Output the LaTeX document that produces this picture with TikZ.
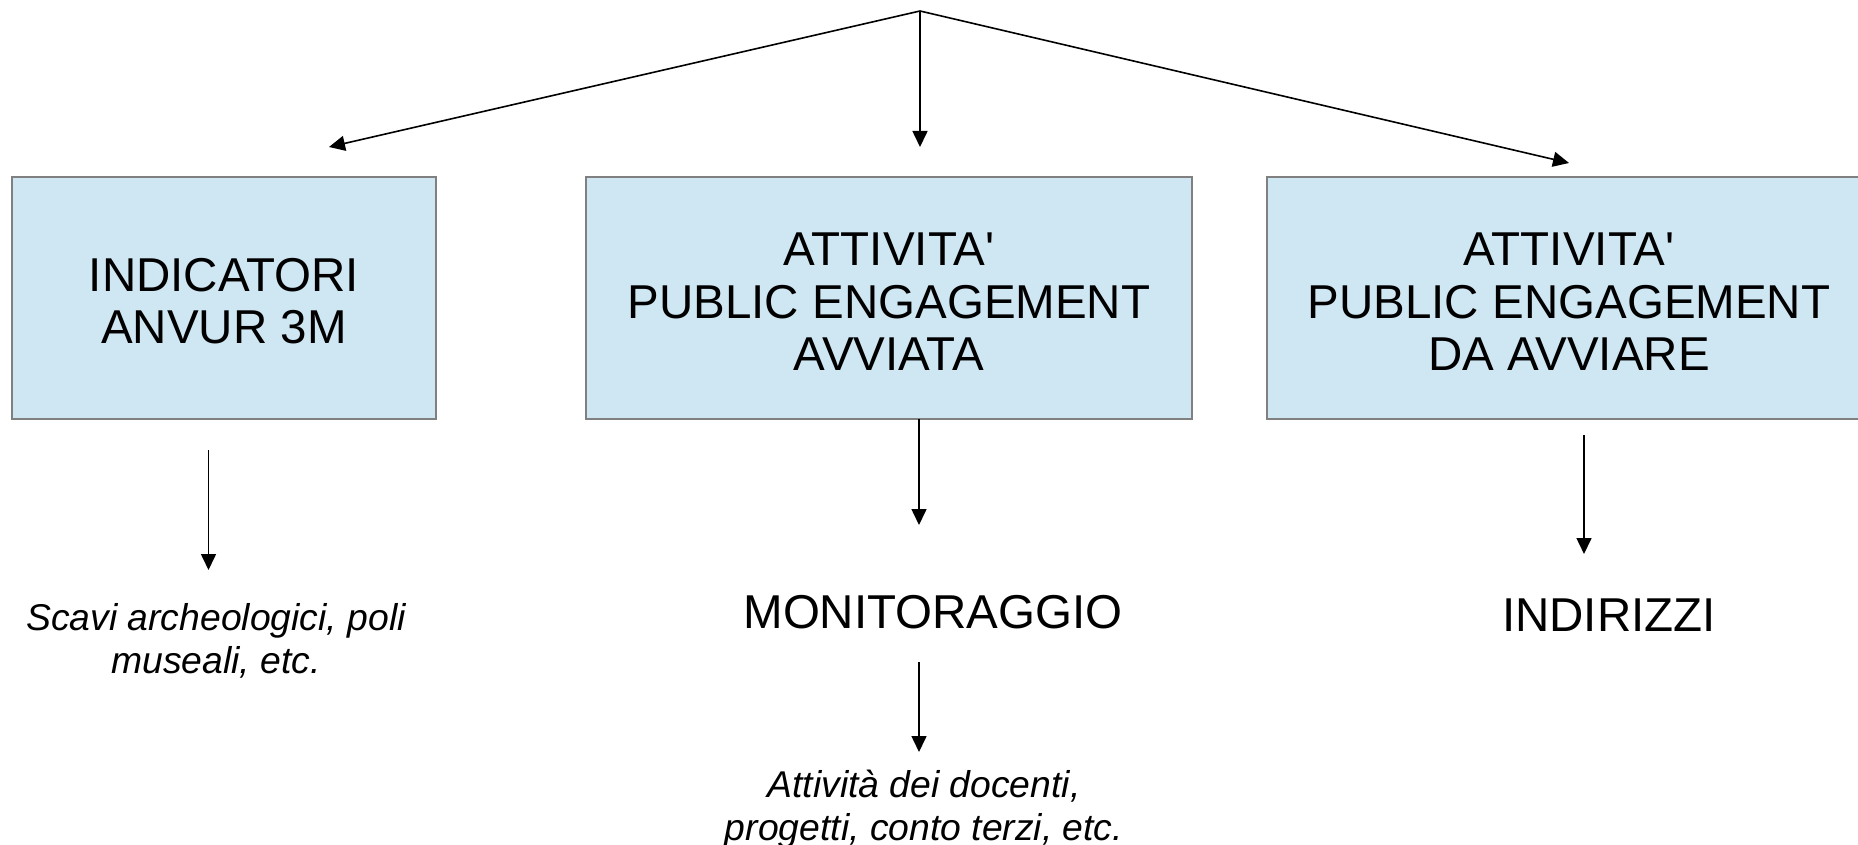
\documentclass[tikz,border=0pt]{standalone}
\usepackage{fontspec}
\setmainfont{Liberation Sans}
\usetikzlibrary{arrows.meta}
\definecolor{boxfill}{RGB}{207,230,243}
\definecolor{boxline}{RGB}{128,128,128}
\newcommand\diagbig{\fontsize{23.75pt}{26.3pt}\selectfont}
\newcommand\diagsmall{\fontsize{18.65pt}{21.3pt}\selectfont}
\begin{document}
\begin{tikzpicture}[x=0.5pt,y=-0.5pt,
  box/.style={draw=boxline,line width=0.75pt,fill=boxfill,minimum height=121pt,inner sep=0pt},
  big/.style={font=\diagbig,inner sep=0pt,align=center},
  small/.style={font=\diagsmall\itshape,inner sep=0pt,align=center},
  arr/.style={line width=0.8pt,-{Triangle[length=8pt,width=7.5pt]}}]
\useasboundingbox (0,0) rectangle (1858,845);
% boxes
\node[box,minimum width=212pt] (b1) at (224,298) {};
\node[box,minimum width=303pt] (b2) at (889,298) {};
\node[box,minimum width=302pt] (b3) at (1569,298) {};
\node[big] (b1t) at (224,301) {INDICATORI\\ANVUR 3M};
\node[big] (b2t) at (889,302) {ATTIVITA\textquotesingle\\PUBLIC ENGAGEMENT\\AVVIATA};
\node[big] (b3t) at (1569,302) {ATTIVITA\textquotesingle\\PUBLIC ENGAGEMENT\\DA AVVIARE};
% texts
\node[small] (t1) at (216,641) {Scavi archeologici, poli\\museali, etc.};
\node[big] (mon) at (933,612) {MONITORAGGIO};
\node[small] (t2) at (924,809) {Attività dei docenti,\\progetti, conto terzi, etc.};
\node[big] (ind) at (1609,615) {INDIRIZZI};
% connector ends
\coordinate (apex) at (920,11);
\coordinate (tl) at (329,147);
\coordinate (tm) at (920,147);
\coordinate (tr) at (1569,163);
\coordinate (a1s) at (208.5,450);
\coordinate (a1e) at (208.5,570);
\coordinate (a2s) at (919,419);
\coordinate (a2e) at (919,525);
\coordinate (a3s) at (919,662);
\coordinate (a3e) at (919,752);
\coordinate (a4s) at (1584,435);
\coordinate (a4e) at (1584,554);
% connectors
\draw[arr] (apex) -- (tl);
\draw[arr] (apex) -- (tm);
\draw[arr] (apex) -- (tr);
\draw[arr] (a1s) -- (a1e);
\draw[arr] (a2s) -- (a2e);
\draw[arr] (a3s) -- (a3e);
\draw[arr] (a4s) -- (a4e);
\end{tikzpicture}
\end{document}
